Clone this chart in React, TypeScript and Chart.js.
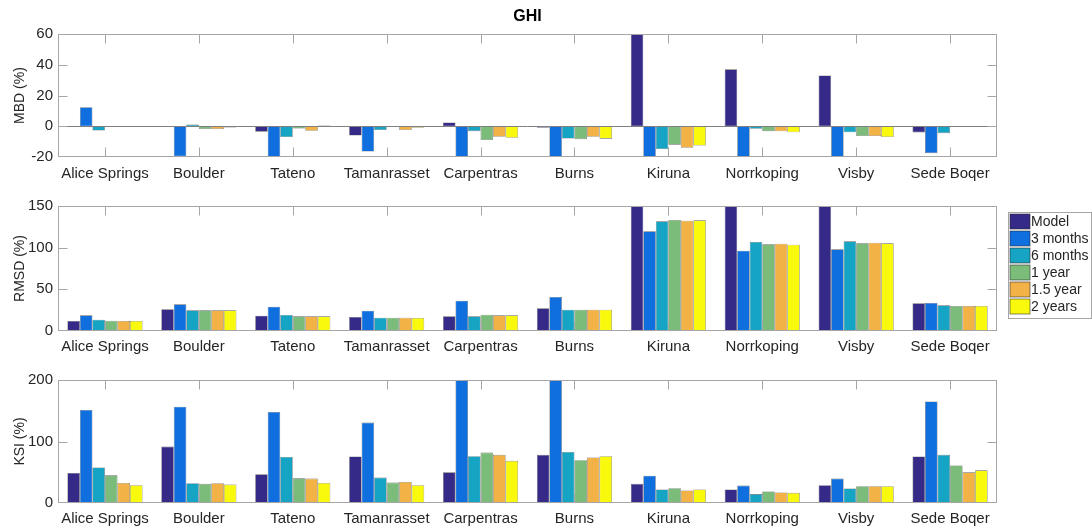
import React, { useEffect, useRef } from 'react';
import { Chart, registerables } from 'chart.js';

Chart.register(...registerables);

const CATEGORIES = ['Alice Springs', 'Boulder', 'Tateno', 'Tamanrasset', 'Carpentras', 'Burns', 'Kiruna', 'Norrkoping', 'Visby', 'Sede Boqer'];
const SERIES_NAMES = ['Model', '3 months', '6 months', '1 year', '1.5 year', '2 years'];
const SERIES_COLORS = ['#352a87', '#0f6fde', '#16a4c4', '#7cbc7b', '#f2b246', '#f9f90e'];

// MBD (%)
const MBD_MODEL = [0, 0.2, -3.5, -6, 2.5, -1, 65, 37, 33, -4];
const MBD_3M = [12.4, -19.5, -21, -16.5, -22, -22, -21, -22, -22, -17.5];
const MBD_6M = [-2.8, 1.2, -7, -2.5, -3.2, -8, -14.8, -1.7, -3.9, -4.5];
const MBD_1Y = [-0.5, -1.8, -1.5, -0.5, -9, -8.4, -12, -3.2, -6.4, -0.3];
const MBD_15Y = [-0.3, -1.8, -3, -2.5, -6.9, -6.9, -14, -3.3, -6.4, -0.3];
const MBD_2Y = [-0.3, -0.8, 0.5, -1, -7.5, -8.1, -12.6, -3.9, -7, -0.3];

// RMSD (%)
const RMSD_MODEL = [12, 26, 18.4, 16.8, 17.6, 27.2, 160, 160, 160, 33.2];
const RMSD_3M = [18.8, 32, 29.2, 24.4, 36.4, 40.8, 119.6, 96.4, 98, 33.6];
const RMSD_6M = [13.6, 24.8, 19.2, 16, 17.6, 25.6, 131.6, 106.8, 107.6, 30.8];
const RMSD_1Y = [12.4, 24.8, 17.6, 16, 19.6, 25.6, 133.2, 104, 105.2, 30];
const RMSD_15Y = [12, 24.8, 17.6, 16, 18.8, 25.6, 132.4, 104.8, 106, 30];
const RMSD_2Y = [12, 24.8, 17.6, 15.6, 18.8, 25.6, 132.8, 103.6, 105.2, 30];

// KSI (%)
const KSI_MODEL = [48.8, 91.7, 46.6, 75.6, 49.9, 78.3, 31.1, 22, 29, 75.6];
const KSI_3M = [151.2, 156.6, 148, 130.8, 215, 215, 44.5, 28.4, 39.7, 165.1];
const KSI_6M = [57.9, 32.2, 75, 41.3, 76.1, 83.1, 22, 14.5, 23.6, 78.3];
const KSI_1Y = [45, 31.1, 40.2, 33.2, 82, 69.7, 24.1, 18.8, 27.3, 61.1];
const KSI_15Y = [32.7, 32.2, 39.7, 34.3, 78.3, 74, 20.4, 17.2, 27.3, 49.9];
const KSI_2Y = [29, 30, 32.7, 29, 68.6, 76.1, 22, 16.6, 27.3, 53.1];

const FONT = "'Liberation Sans', Arial, Helvetica, sans-serif";
const TEXT = '#262626';
const AXIS = '#a6a6a6';
const W = 1092;
const PLOT_LEFT = 58;
const PLOT_RIGHT = 997;

const matlabAxes = {
  id: 'matlabAxes',
  afterDatasetsDraw(chart: any, _args: any, opts: any) {
    const { ctx, chartArea: a, scales } = chart;
    const xs = scales.x;
    const ys = scales.y;
    const L = Math.round(a.left) + 0.5;
    const R = Math.round(a.right) - 0.5;
    const T = Math.round(a.top) + 0.5;
    const B = Math.round(a.bottom) - 0.5;
    const TL = 9;
    ctx.save();
    ctx.lineWidth = 1;
    const line = (x1: number, y1: number, x2: number, y2: number) => {
      ctx.beginPath();
      ctx.moveTo(x1, y1);
      ctx.lineTo(x2, y2);
      ctx.stroke();
    };
    if (opts && opts.baseline) {
      const yb = Math.round(ys.getPixelForValue(0)) + 0.5;
      ctx.strokeStyle = '#808080';
      line(L, yb, R, yb);
    }
    ctx.strokeStyle = AXIS;
    ctx.strokeRect(L, T, R - L, B - T);
    ys.ticks.forEach((t: any) => {
      if (t.value === ys.min || t.value === ys.max) return;
      const py = Math.round(ys.getPixelForValue(t.value)) + 0.5;
      line(L, py, L + TL, py);
      line(R - TL, py, R, py);
    });
    xs.ticks.forEach((_t: any, i: number) => {
      const px = Math.round(xs.getPixelForValue(i)) + 0.5;
      line(px, B, px, B - TL);
      line(px, T, px, T + TL);
    });
    ctx.restore();
  },
};

const boxLegend = {
  id: 'boxLegend',
  afterDraw(chart: any, _args: any, opts: any) {
    if (!opts || !opts.show) return;
    const ctx = chart.ctx;
    const { x, y, w, h, rowH, swW, swH } = opts;
    ctx.save();
    ctx.fillStyle = '#ffffff';
    ctx.fillRect(x, y, w, h);
    ctx.strokeStyle = AXIS;
    ctx.lineWidth = 1;
    ctx.strokeRect(x + 0.5, y + 0.5, w, h);
    chart.data.datasets.forEach((ds: any, i: number) => {
      const sy = y + 2 + i * rowH;
      ctx.fillStyle = ds.backgroundColor;
      ctx.fillRect(x + 2, sy, swW, swH);
      ctx.strokeStyle = 'rgba(40,40,40,0.7)';
      ctx.lineWidth = 0.8;
      ctx.strokeRect(x + 2, sy, swW, swH);
      ctx.fillStyle = TEXT;
      ctx.font = `14px ${FONT}`;
      ctx.textBaseline = 'middle';
      ctx.textAlign = 'left';
      ctx.fillText(ds.label, x + 23, sy + swH / 2 + 0.5);
    });
    ctx.restore();
  },
};

interface PanelCfg {
  height: number;
  top: number;
  xHeight: number;
  xPad: number;
  yTitle: string;
  min: number;
  max: number;
  step: number;
  series: number[][];
  title?: string;
  baseline?: boolean;
  legend?: boolean;
}

function makeChart(canvas: HTMLCanvasElement, cfg: PanelCfg) {
  return new Chart(canvas, {
    type: 'bar',
    data: {
      labels: CATEGORIES,
      datasets: cfg.series.map((vals, i) => ({
        label: SERIES_NAMES[i],
        data: vals,
        backgroundColor: SERIES_COLORS[i],
        borderColor: 'rgba(35,35,35,0.7)',
        borderWidth: 0.6,
        borderSkipped: false,
        categoryPercentage: 0.8,
        barPercentage: 1.0,
      })),
    },
    options: {
      responsive: false,
      maintainAspectRatio: false,
      animation: false,
      events: [],
      layout: {
        padding: { left: 0, right: W - PLOT_RIGHT, top: cfg.title ? 0 : cfg.top, bottom: 0 },
      },
      plugins: {
        legend: { display: false },
        tooltip: { enabled: false },
        title: cfg.title
          ? {
              display: true,
              text: cfg.title,
              fullSize: false,
              color: '#000000',
              font: { family: FONT, size: 16, weight: 'bold' },
              padding: { top: cfg.top - 27.5, bottom: 8.3 },
            }
          : { display: false },
        matlabAxes: { baseline: !!cfg.baseline },
        boxLegend: cfg.legend
          ? { show: true, x: 1008, y: 212 - 185, w: 83, h: 106, rowH: 17, swW: 20, swH: 15 }
          : { show: false },
      } as any,
      scales: {
        x: {
          type: 'category',
          grid: { display: false, drawTicks: false },
          border: { display: false },
          ticks: {
            color: TEXT,
            font: { family: FONT, size: 15 },
            padding: cfg.xPad,
            maxRotation: 0,
            autoSkip: false,
          },
          afterFit: (s: any) => {
            s.height = cfg.xHeight;
          },
        },
        y: {
          min: cfg.min,
          max: cfg.max,
          grid: { display: false, drawTicks: false },
          border: { display: false },
          ticks: {
            stepSize: cfg.step,
            color: TEXT,
            font: { family: FONT, size: 15 },
            padding: 5,
          },
          title: {
            display: true,
            text: cfg.yTitle,
            color: TEXT,
            font: { family: FONT, size: 14 },
            padding: { top: 12, bottom: 0 },
          },
          afterFit: (s: any) => {
            s.width = PLOT_LEFT;
          },
        },
      } as any,
    } as any,
    plugins: [matlabAxes, boxLegend],
  });
}

const PANELS: (PanelCfg & { y: number })[] = [
  {
    y: 0,
    height: 185,
    top: 34,
    xHeight: 28,
    xPad: 8,
    yTitle: 'MBD (%)',
    min: -20,
    max: 60,
    step: 20,
    title: 'GHI',
    baseline: true,
    series: [MBD_MODEL, MBD_3M, MBD_6M, MBD_1Y, MBD_15Y, MBD_2Y],
  },
  {
    y: 185,
    height: 172,
    top: 21,
    xHeight: 26,
    xPad: 7,
    yTitle: 'RMSD (%)',
    min: 0,
    max: 150,
    step: 50,
    legend: true,
    series: [RMSD_MODEL, RMSD_3M, RMSD_6M, RMSD_1Y, RMSD_15Y, RMSD_2Y],
  },
  {
    y: 357,
    height: 171,
    top: 23,
    xHeight: 25,
    xPad: 7,
    yTitle: 'KSI (%)',
    min: 0,
    max: 200,
    step: 100,
    series: [KSI_MODEL, KSI_3M, KSI_6M, KSI_1Y, KSI_15Y, KSI_2Y],
  },
];

export default function App() {
  const refs = [useRef<HTMLCanvasElement>(null), useRef<HTMLCanvasElement>(null), useRef<HTMLCanvasElement>(null)];
  useEffect(() => {
    const charts = PANELS.map((p, i) => makeChart(refs[i].current as HTMLCanvasElement, p));
    return () => charts.forEach((c) => c.destroy());
  }, []);
  return (
    <div style={{ position: 'absolute', left: 0, top: 0, width: W, height: 528, background: '#ffffff' }}>
      {PANELS.map((p, i) => (
        <div key={i} style={{ position: 'absolute', left: 0, top: p.y, width: W, height: p.height }}>
          <canvas ref={refs[i]} width={W} height={p.height} style={{ width: W, height: p.height, display: 'block' }} />
        </div>
      ))}
    </div>
  );
}
